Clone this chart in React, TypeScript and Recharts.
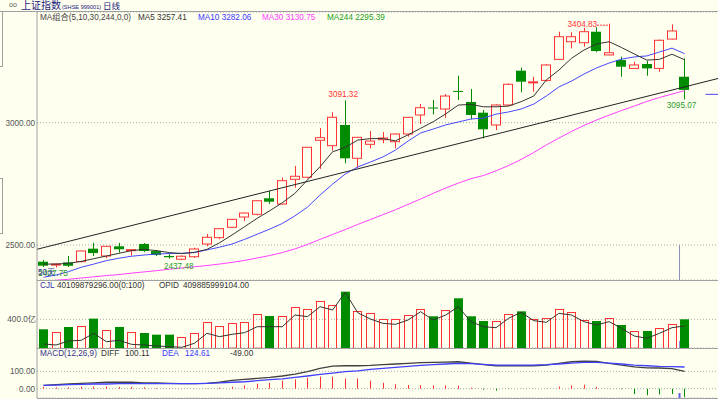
import React from "react";
import {
    ComposedChart,
    Bar,
    Line,
    XAxis,
    YAxis,
    CartesianGrid,
    ReferenceLine,
    ReferenceDot,
} from "recharts";

// daily candles (index 0 = leftmost)
const opens = [2431.8, 2419, 2429, 2432, 2485, 2455, 2494.7, 2477, 2504, 2475, 2455, 2442, 2452, 2504, 2530, 2572.4, 2614.5, 2625.5, 2691, 2667.6, 2768.6, 2777, 2928, 2906, 2990.6, 2854.5, 2911.7, 2930.5, 2922.3, 2953.8, 3031.5, 3062, 3056, 3130, 3084.6, 3041, 2990.6, 3072.4, 3212.6, 3163, 3173, 3259, 3331, 3327, 3372, 3277, 3256, 3222, 3240, 3222, 3342, 3188];
const highs = [2439, 2424, 2455, 2477, 2509, 2496, 2509, 2482, 2508, 2480, 2463, 2458, 2489, 2545, 2568, 2607, 2633, 2683, 2721, 2776, 2823, 2901, 2978, 3042.5, 3091.32, 2942, 2966, 2962, 2956, 3024, 3076.4, 3093, 3117, 3192, 3138, 3052, 3075, 3161, 3225, 3188, 3240, 3372, 3369.5, 3388, 3390, 3404.83, 3270, 3249, 3253, 3340, 3402, 3263];
const lows = [2410, 2407.75, 2410, 2428, 2455, 2446, 2469, 2456, 2471, 2455, 2444, 2437.48, 2447, 2495, 2524, 2570, 2598, 2621, 2668, 2665, 2734, 2772, 2811, 2885.5, 2834, 2814, 2895, 2916, 2895, 2943, 2994.7, 3034, 3020, 3093, 3014, 2936, 2970, 3068, 3124, 3127, 3168, 3257, 3304, 3311, 3288, 3276, 3188, 3220, 3192, 3208, 3340, 3095.07];
const closes = [2415.4, 2422, 2415, 2475.5, 2467, 2494.7, 2482.5, 2481, 2475.5, 2459, 2450, 2454, 2483.7, 2531.5, 2566.7, 2605, 2630.8, 2681, 2677, 2763, 2781, 2899.4, 2938.7, 3022, 2854.5, 2940.3, 2925, 2937.5, 2953.8, 3022, 3061.3, 3060, 3109, 3128, 3031.5, 2973, 3072.4, 3157, 3167.6, 3167, 3236, 3351.6, 3351.6, 3372, 3293, 3286, 3229, 3236, 3222, 3337, 3375, 3134];

const ma5 = [2422, 2422, 2425, 2433, 2444, 2455, 2466, 2477, 2482, 2477, 2469, 2465, 2470, 2482, 2509, 2541, 2575, 2609, 2640, 2673, 2711, 2766, 2820, 2881, 2899, 2929, 2935, 2935, 2926, 2950, 2977, 3004, 3036, 3072, 3075, 3065, 3065, 3068, 3086, 3109, 3175, 3215, 3263, 3297, 3322, 3331, 3307, 3281, 3256, 3259, 3280, 3257.41];
const ma10 = [2368, 2377.5, 2391, 2409, 2422, 2436, 2446, 2454, 2459, 2463, 2465, 2466, 2469, 2480, 2491, 2504, 2523, 2544, 2565, 2588, 2619, 2655, 2704, 2749, 2790, 2819, 2839, 2860, 2888, 2925, 2958, 2974, 2991, 3003, 3015, 3019, 3035, 3044, 3056, 3076, 3109, 3146, 3170, 3199, 3224, 3244, 3260, 3269, 3273, 3289, 3305, 3282.06];
const ma30 = [2351, 2356, 2360, 2365, 2370, 2375, 2379, 2385, 2390, 2395, 2401, 2406, 2411, 2416, 2422, 2429, 2437, 2447, 2457, 2469, 2484, 2502, 2523, 2543, 2563, 2584, 2604, 2624, 2644, 2666, 2688, 2711, 2733, 2753, 2771, 2784, 2803, 2825, 2850, 2878, 2909, 2937, 2964, 2989, 3011, 3031, 3050, 3068, 3087, 3103, 3117, 3130.75];

// volume in 亿
const volumes = [261, 223, 293, 307, 409, 251, 293, 223, 209, 186, 186, 153, 213, 367, 311, 344, 367, 470, 446, 446, 567, 544, 651, 604, 785, 520, 483, 409, 400, 460, 548, 442, 530, 693, 442, 376, 376, 470, 511, 404, 414, 539, 502, 395, 376, 414, 321, 233, 237, 283, 339, 400];
const volLine = [56, 42, 98, 107, 205, 88, 107, 51, 42, 28, 19, 10, 65, 205, 158, 191, 214, 297, 297, 297, 460, 437, 576, 530, 776, 492, 404, 344, 330, 390, 506, 390, 460, 576, 367, 297, 283, 414, 497, 381, 358, 483, 460, 367, 321, 367, 274, 167, 135, 205, 283, 307];

// MACD(12,26,9)
const diff = [19, 23, 27, 31, 34, 37, 37, 37, 34, 33, 31, 29, 29, 31, 37, 48, 54, 59, 65, 73, 84, 98, 117, 130, 132, 132, 134, 138, 142, 146, 150, 151, 153, 155, 147, 138, 132, 132, 132, 132, 136, 146, 155, 159, 157, 146, 136, 126, 120, 119, 115, 100.11];
const dea = [19, 21, 23, 25, 27, 27, 29, 29, 29, 29, 29, 29, 29, 31, 33, 37, 40, 46, 52, 57, 65, 73, 82, 90, 98, 103, 111, 117, 123, 128, 134, 138, 142, 146, 144, 140, 136, 136, 136, 136, 138, 142, 147, 151, 151, 147, 142, 136, 132, 128, 127, 124.61];
const macdHist = [11, 8, 8, 11, 13, 13, 10, 10, 8, 4, 2, 1, 1, 2, 6, 11, 19, 29, 34, 46, 54, 63, 69, 69, 59, 59, 46, 34, 25, 21, 21, 19, 19, 17, 6, -6, -11, -2, -1, 0.5, 1, 13, 19, 23, 11, -1, -4, -31, -38, -33, -31, -49];

const priceTicks = [2500, 3000];
const volTicks = [400];
const macdTicks = [0, 100];

// hand-drawn trend line and the short blue line at the right edge
const trendLine = [{ i: -0.517, v: 2482.5 }, { i: 53.66, v: 3180.7 }];
const blueStub = [{ i: 52.67, v: 3116 }, { i: 53.66, v: 3116 }];
const cursorAt = 50.6;

const rows = opens.map((open, i) => ({
    i,
    open,
    high: highs[i],
    low: lows[i],
    close: closes[i],
    hl: [lows[i], highs[i]],
    ma5: ma5[i],
    ma10: ma10[i],
    ma30: ma30[i],
    vol: volumes[i],
    volLine: volLine[i],
    diff: diff[i],
    dea: dea[i],
    macd: macdHist[i],
}));

const X_DOMAIN: [number, number] = [-0.517, 53.66];
const FONT = "'Liberation Sans', Arial, 'Noto Sans CJK SC', sans-serif";
const BG = "#FFFFF0";
const RED = "#FF3333";
const GREEN = "#008C00";
const AXIS = "#A0A0A0";
const GRID = "#A8A8A8";
const FS = 8.2;

const tickStyle = { fontSize: FS, fill: "#555", fontFamily: FONT };

function Candle(props: any) {
    const { x, y, width, height, payload } = props;
    if (x == null || !payload) return null;
    const top = Math.min(y, y + height);
    const h = Math.abs(height);
    const { open, close, high, low } = payload;
    const span = high - low || 1;
    const toY = (v: number) => top + ((high - v) / span) * h;
    const left = Math.round(x);
    const w = Math.round(width);
    const cx = left + Math.floor(w / 2) + 0.5;
    const yo = toY(open);
    const yc = toY(close);
    const bTop = Math.min(yo, yc);
    const bodyH = Math.max(Math.abs(yo - yc), 1);
    if (close >= open) {
        return (
            <g>
                <line x1={cx} x2={cx} y1={top} y2={bTop} stroke={RED} />
                <line x1={cx} x2={cx} y1={bTop + bodyH} y2={top + h} stroke={RED} />
                <rect x={left + 0.5} y={bTop} width={w - 1} height={bodyH} fill={BG} stroke={RED} />
            </g>
        );
    }
    return (
        <g>
            <line x1={cx} x2={cx} y1={top} y2={top + h} stroke={GREEN} />
            <rect x={left} y={bTop} width={w} height={bodyH} fill={GREEN} />
        </g>
    );
}

function VolBar(props: any) {
    const { x, y, width, height, payload } = props;
    if (x == null || !payload) return null;
    const top = Math.min(y, y + height);
    const h = Math.abs(height);
    const left = Math.round(x);
    const w = Math.round(width);
    if (payload.close >= payload.open) {
        return <rect x={left + 0.5} y={Math.round(top) + 0.5} width={w - 1} height={h} fill="none" stroke={RED} />;
    }
    return <rect x={left} y={top} width={w} height={h} fill={GREEN} />;
}

function MacdBar(props: any) {
    const { x, y, width, height, payload } = props;
    if (x == null || !payload) return null;
    const top = Math.min(y, y + height);
    const h = Math.abs(height);
    const cx = Math.round(x + width / 2) + 0.5;
    return <line x1={cx} x2={cx} y1={top} y2={top + h} stroke={payload.macd >= 0 ? RED : GREEN} />;
}

const labelAbove = (color: string, text: string, dx = 0) => (p: any) => (
    <text x={p.cx + dx} y={p.cy - 6} fill={color} fontSize={FS} fontFamily={FONT} textAnchor="middle" dominantBaseline="central">
        {text}
    </text>
);
const labelBelow = (color: string, text: string, dx = 0) => (p: any) => (
    <text x={p.cx + dx} y={p.cy + 6} fill={color} fontSize={FS} fontFamily={FONT} textAnchor="middle" dominantBaseline="central">
        {text}
    </text>
);
const labelLeft = (color: string, text: string) => (p: any) => (
    <g>
        <text x={p.cx - 12} y={p.cy + 1} fill={color} fontSize={FS} fontFamily={FONT} textAnchor="end" dominantBaseline="central">
            {text}
        </text>
        <line x1={p.cx - 12} x2={p.cx - 1} y1={p.cy + 1.5} y2={p.cy + 1.5} stroke={color} strokeDasharray="2 1" />
    </g>
);

const hLine = (top: number, left: number, width: number) => (
    <div style={{ position: "absolute", top, left, width, height: 1, background: AXIS }} />
);

const txt = (left: number, top: number, color: string, s: string, size = FS) => (
    <span style={{ position: "absolute", left, top, color, fontSize: size, lineHeight: "10px", whiteSpace: "nowrap" }}>{s}</span>
);

export default function App() {
    return (
        <div style={{ position: "absolute", left: 0, top: 0, width: 718, height: 399, background: BG, overflow: "hidden", fontFamily: FONT }}>
            {/* title bar */}
            {txt(9, 0, "#555", "oo", 7)}
            {txt(21, 1, "#1A1A80", "上证指数", 10)}
            {txt(62, 2, "#1A1A80", "(SHSE 999001)", 5.6)}
            {txt(103, 1, "#1A1A80", "日线", 8.5)}
            {hLine(11, 0, 718)}

            {/* left ruler */}
            <div style={{ position: "absolute", left: 2, top: 12, width: 1, height: 55, background: AXIS }} />
            <div style={{ position: "absolute", left: 0, top: 66, width: 3, height: 1, background: AXIS }} />
            <div style={{ position: "absolute", left: 2, top: 178, width: 1, height: 55, background: AXIS }} />
            <div style={{ position: "absolute", left: 0, top: 178, width: 3, height: 1, background: AXIS }} />
            <div style={{ position: "absolute", left: 0, top: 233, width: 3, height: 1, background: AXIS }} />

            {/* price panel */}
            <div style={{ position: "absolute", left: 0, top: 12 }}>
                <ComposedChart width={718} height={268} data={rows} margin={{ top: 0, right: 0, bottom: 0, left: 0 }}>
                    <CartesianGrid vertical={false} stroke={GRID} strokeDasharray="1 2" />
                    <XAxis type="number" dataKey="i" domain={X_DOMAIN} allowDataOverflow hide />
                    <YAxis
                        domain={[2356.9, 3452.6]}
                        ticks={priceTicks}
                        allowDataOverflow
                        interval={0}
                        width={37}
                        tickLine={false}
                        tickSize={0}
                        tickMargin={2}
                        axisLine={{ stroke: AXIS }}
                        tick={tickStyle}
                        tickFormatter={(v: number) => v.toFixed(2)}
                    />
                    <Bar dataKey="hl" barSize={10} shape={Candle} isAnimationActive={false} />
                    <Line type="linear" dataKey="ma30" stroke="#FF40FF" strokeWidth={1} dot={false} isAnimationActive={false} />
                    <Line type="linear" dataKey="ma10" stroke="#4848FF" strokeWidth={1} dot={false} isAnimationActive={false} />
                    <Line type="linear" dataKey="ma5" stroke="#333333" strokeWidth={1} dot={false} isAnimationActive={false} />
                    <ReferenceLine
                        segment={trendLine.map((p) => ({ x: p.i, y: p.v }))}
                        stroke="#222"
                        strokeWidth={1}
                        ifOverflow="hidden"
                    />
                    <ReferenceLine segment={blueStub.map((p) => ({ x: p.i, y: p.v }))} stroke="#4848FF" ifOverflow="hidden" />
                    <ReferenceLine segment={[{ x: cursorAt, y: 2500 }, { x: cursorAt, y: 2356.9 }]} stroke="#8C8CB8" ifOverflow="hidden" />
                    <ReferenceDot x={24} y={highs[24]} r={0} shape={labelAbove(RED, highs[24].toFixed(2), -2)} />
                    <ReferenceDot x={45} y={highs[45]} r={0} shape={labelLeft(RED, highs[45].toFixed(2))} />
                    <ReferenceDot x={11} y={lows[11]} r={0} shape={labelBelow("#2A9A2A", lows[11].toFixed(2), -3)} />
                    <ReferenceDot x={51} y={lows[51]} r={0} shape={labelBelow("#2A9A2A", lows[51].toFixed(2), -3)} />
                    <ReferenceDot x={1} y={lows[1]} r={0} shape={labelBelow("#2A9A2A", lows[1].toFixed(2), -3)} />
                </ComposedChart>
            </div>
            {txt(38, 268, "#33339A", "50天")}

            {/* MA header */}
            {txt(40, 12.5, "#444", "MA组合(5,10,30,244,0,0)")}
            {txt(138, 12.5, "#333", "MA5 3257.41")}
            {txt(198, 12.5, "#3838FF", "MA10 3282.06")}
            {txt(262, 12.5, "#FF40FF", "MA30 3130.75")}
            {txt(327, 12.5, "#22A022", "MA244 2295.39")}

            {hLine(280, 37, 681)}

            {/* volume panel */}
            <div style={{ position: "absolute", left: 0, top: 280 }}>
                <ComposedChart width={718} height={68} data={rows} margin={{ top: 0, right: 0, bottom: 0, left: 0 }}>
                    <CartesianGrid vertical={false} stroke={GRID} strokeDasharray="1 2" />
                    <XAxis type="number" dataKey="i" domain={X_DOMAIN} allowDataOverflow hide />
                    <YAxis
                        domain={[0, 948]}
                        ticks={volTicks}
                        allowDataOverflow
                        interval={0}
                        width={37}
                        tickLine={false}
                        tickSize={0}
                        tickMargin={1}
                        axisLine={{ stroke: AXIS }}
                        tick={tickStyle}
                        tickFormatter={(v: number) => v.toFixed(1) + "亿"}
                    />
                    <Bar dataKey="vol" barSize={9} shape={VolBar} isAnimationActive={false} />
                    <Line type="linear" dataKey="volLine" stroke="#333" strokeWidth={1} dot={false} isAnimationActive={false} />
                    <ReferenceLine segment={[{ x: cursorAt, y: 0 }, { x: cursorAt, y: 98 }]} stroke="#8C8CE0" ifOverflow="hidden" />
                </ComposedChart>
            </div>
            {txt(40, 281, "#3333AA", "CJL")}
            {txt(57, 281, "#333", "40109879296.00(0:100)")}
            {txt(159, 281, "#333", "OPID")}
            {txt(183, 281, "#333", "409885999104.00")}

            {hLine(348, 37, 681)}

            {/* MACD panel */}
            <div style={{ position: "absolute", left: 0, top: 348 }}>
                <ComposedChart width={718} height={50} data={rows} margin={{ top: 0, right: 0, bottom: 0, left: 0 }}>
                    <CartesianGrid vertical={false} stroke={GRID} strokeDasharray="1 2" />
                    <XAxis type="number" dataKey="i" domain={X_DOMAIN} allowDataOverflow hide />
                    <YAxis
                        domain={[-53.4, 233.9]}
                        ticks={macdTicks}
                        allowDataOverflow
                        interval={0}
                        width={37}
                        tickLine={false}
                        tickSize={0}
                        tickMargin={2}
                        axisLine={{ stroke: AXIS }}
                        tick={tickStyle}
                        tickFormatter={(v: number) => v.toFixed(2)}
                    />
                    <Bar dataKey="macd" barSize={2} shape={MacdBar} isAnimationActive={false} />
                    <Line type="linear" dataKey="diff" stroke="#404040" strokeWidth={1.3} dot={false} isAnimationActive={false} />
                    <Line type="linear" dataKey="dea" stroke="#4040FF" strokeWidth={1.3} dot={false} isAnimationActive={false} />
                    <ReferenceLine segment={[{ x: cursorAt, y: -53.4 }, { x: cursorAt, y: -25 }]} stroke="#6060E0" strokeWidth={2} ifOverflow="hidden" />
                </ComposedChart>
            </div>
            {txt(40, 349, "#33338A", "MACD(12,26,9)")}
            {txt(101, 349, "#333", "DIFF")}
            {txt(125, 349, "#333", "100.11")}
            {txt(162, 349, "#3838FF", "DEA")}
            {txt(185, 349, "#3838FF", "124.61")}
            {txt(230, 349, "#333", "-49.00")}

            {hLine(398, 37, 681)}
        </div>
    );
}
